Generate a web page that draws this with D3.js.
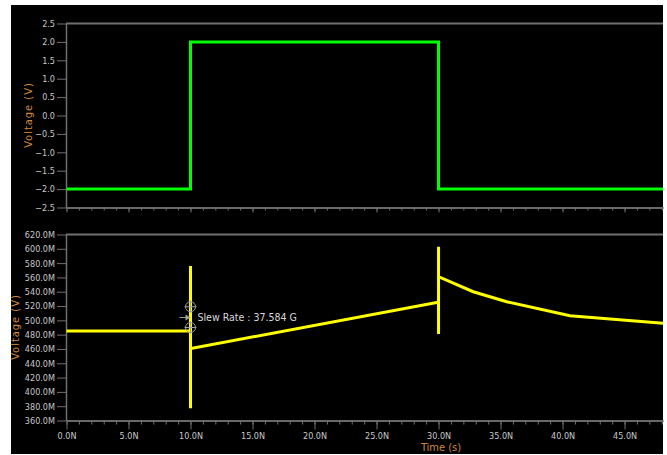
<!DOCTYPE html>
<html>
<head>
<meta charset="utf-8">
<script src="https://cdn.jsdelivr.net/npm/d3@7"></script>
<style>
  html, body { margin: 0; padding: 0; background: #fff; }
  svg { display: block; }
  .tick text { font-family: "DejaVu Sans Condensed", "DejaVu Sans", sans-serif; font-size: 9px; fill: #c8c8c8; }
</style>
</head>
<body>
<svg id="chart" width="667" height="455"></svg>
<script>
// Input pulse (upper panel)
const inTime = [0, 10, 10, 30, 30, 48.1];          // ns
const inVolt = [-2, -2, 2, 2, -2, -2];              // V

// Output response (lower panel)
const outTime = [0, 10, 10, 10, 10, 10.15, 29.85, 30, 30, 30, 30, 32.8, 35.5, 40.6, 48.1]; // ns
const outVolt = [485, 485, 576, 377, 461, 461, 525, 525, 603, 481, 561, 540, 526, 506.5, 496]; // mV

// Tick labels
const timeTicks = [0, 5, 10, 15, 20, 25, 30, 35, 40, 45];
const topVoltTicks = [-2.5, -2.0, -1.5, -1.0, -0.5, 0.0, 0.5, 1.0, 1.5, 2.0, 2.5];
const botVoltTicks = [360, 380, 400, 420, 440, 460, 480, 500, 520, 540, 560, 580, 600, 620];

// Slew-rate measurement markers
const slewMarks = [519, 490];   // mV at t = 10 ns
const slewLabel = "Slew Rate : 37.584 G";
const slewAt = { t: 10, v: 504 };

const svg = d3.select("#chart");
const gridCol = "#707070";
const labelCol = "#d0883c";
const font = '"DejaVu Sans Condensed", "DejaVu Sans", sans-serif';

svg.append("rect").attr("x", 11).attr("y", 5).attr("width", 652).attr("height", 449).attr("fill", "#000");

const x = d3.scaleLinear().domain([0, 48.1]).range([66.5, 663]);
const yTop = d3.scaleLinear().domain([-2.5, 2.5]).range([207.5, 23.5]);
const yBot = d3.scaleLinear().domain([360, 620]).range([420.5, 234.5]);

svg.append("clipPath").attr("id", "clip").append("rect")
  .attr("x", 66).attr("y", 0).attr("width", 597).attr("height", 455);

function styleAxis(g) {
  g.selectAll(".domain").attr("stroke", gridCol).attr("stroke-width", 1.5);
  g.selectAll(".tick line").attr("stroke", gridCol).attr("stroke-width", 1);
}

// ---- Upper panel ----
svg.append("line").attr("x1", 66).attr("x2", 663).attr("y1", 23.5).attr("y2", 23.5)
  .attr("stroke", gridCol).attr("stroke-width", 2);

svg.append("g").attr("transform", "translate(0,207.5)")
  .call(d3.axisBottom(x).tickValues(d3.range(0, 49, 1)).tickSize(3).tickSizeOuter(0).tickFormat(""))
  .call(styleAxis);
svg.append("g").attr("transform", "translate(0,207.5)")
  .call(d3.axisBottom(x).tickValues(timeTicks).tickSize(5).tickSizeOuter(0).tickFormat(""))
  .call(styleAxis);

svg.append("g").attr("transform", "translate(66,0)")
  .call(d3.axisLeft(yTop).tickValues(topVoltTicks).tickSize(9).tickPadding(2).tickSizeOuter(0)
    .tickFormat(d3.format(".1f")))
  .call(styleAxis);

svg.append("text").attr("transform", "translate(32,115) rotate(-90)")
  .attr("text-anchor", "middle").attr("font-family", font).attr("font-size", 11)
  .attr("letter-spacing", 1).attr("fill", labelCol).text("Voltage (V)");

const topLine = d3.line().x((d, i) => x(inTime[i])).y((d, i) => yTop(inVolt[i]));
svg.append("path").datum(inTime).attr("clip-path", "url(#clip)")
  .attr("d", topLine).attr("fill", "none").attr("stroke", "#00ff00").attr("stroke-width", 3)
  .attr("stroke-linejoin", "miter");

// ---- Lower panel ----
svg.append("line").attr("x1", 66).attr("x2", 663).attr("y1", 234.5).attr("y2", 234.5)
  .attr("stroke", gridCol).attr("stroke-width", 2);

svg.append("g").attr("transform", "translate(0,420.5)")
  .call(d3.axisBottom(x).tickValues(d3.range(0, 49, 1)).tickSize(4).tickSizeOuter(0).tickFormat(""))
  .call(styleAxis);
svg.append("g").attr("transform", "translate(0,420.5)")
  .call(d3.axisBottom(x).tickValues(timeTicks).tickSize(9).tickPadding(3).tickSizeOuter(0)
    .tickFormat(d => d3.format(".1f")(d) + "N"))
  .call(styleAxis);

svg.append("g").attr("transform", "translate(66,0)")
  .call(d3.axisLeft(yBot).tickValues(botVoltTicks).tickSize(9).tickPadding(2).tickSizeOuter(0)
    .tickFormat(d => d3.format(".1f")(d) + "M"))
  .call(styleAxis);

svg.append("text").attr("transform", "translate(19,327) rotate(-90)")
  .attr("text-anchor", "middle").attr("font-family", font).attr("font-size", 11)
  .attr("letter-spacing", 1).attr("fill", labelCol).text("Voltage (V)");

svg.append("text").attr("x", 441).attr("y", 451)
  .attr("text-anchor", "middle").attr("font-family", font).attr("font-size", 11)
  .attr("fill", labelCol).text("Time (s)");

const botLine = d3.line().x((d, i) => x(outTime[i])).y((d, i) => yBot(outVolt[i]));
svg.append("path").datum(outTime).attr("clip-path", "url(#clip)")
  .attr("d", botLine).attr("fill", "none").attr("stroke", "#ffff00").attr("stroke-width", 3)
  .attr("stroke-linejoin", "miter").attr("stroke-miterlimit", 2);

// Slew-rate markers
const markCol = "#a0a0a0";
const mg = svg.append("g");
slewMarks.forEach(v => {
  const cx = x(slewAt.t), cy = yBot(v);
  mg.append("circle").attr("cx", cx).attr("cy", cy).attr("r", 5)
    .attr("fill", "none").attr("stroke", markCol).attr("stroke-width", 1);
  mg.append("line").attr("x1", cx - 6).attr("x2", cx + 6).attr("y1", cy).attr("y2", cy)
    .attr("stroke", markCol).attr("stroke-width", 1);
  mg.append("line").attr("x1", cx).attr("x2", cx).attr("y1", cy - 6).attr("y2", cy + 6)
    .attr("stroke", markCol).attr("stroke-width", 1);
});
const ax = x(slewAt.t), ay = yBot(slewAt.v);
mg.append("line").attr("x1", ax - 11).attr("x2", ax).attr("y1", ay).attr("y2", ay)
  .attr("stroke", markCol).attr("stroke-width", 1);
mg.append("path").attr("d", `M${ax - 5},${ay - 3}L${ax},${ay}L${ax - 5},${ay + 3}Z`).attr("fill", markCol);
mg.append("text").attr("x", ax + 7).attr("y", ay + 4)
  .attr("font-family", font).attr("font-size", 10.5).attr("fill", "#d8d8d8").text(slewLabel);
</script>
</body>
</html>
